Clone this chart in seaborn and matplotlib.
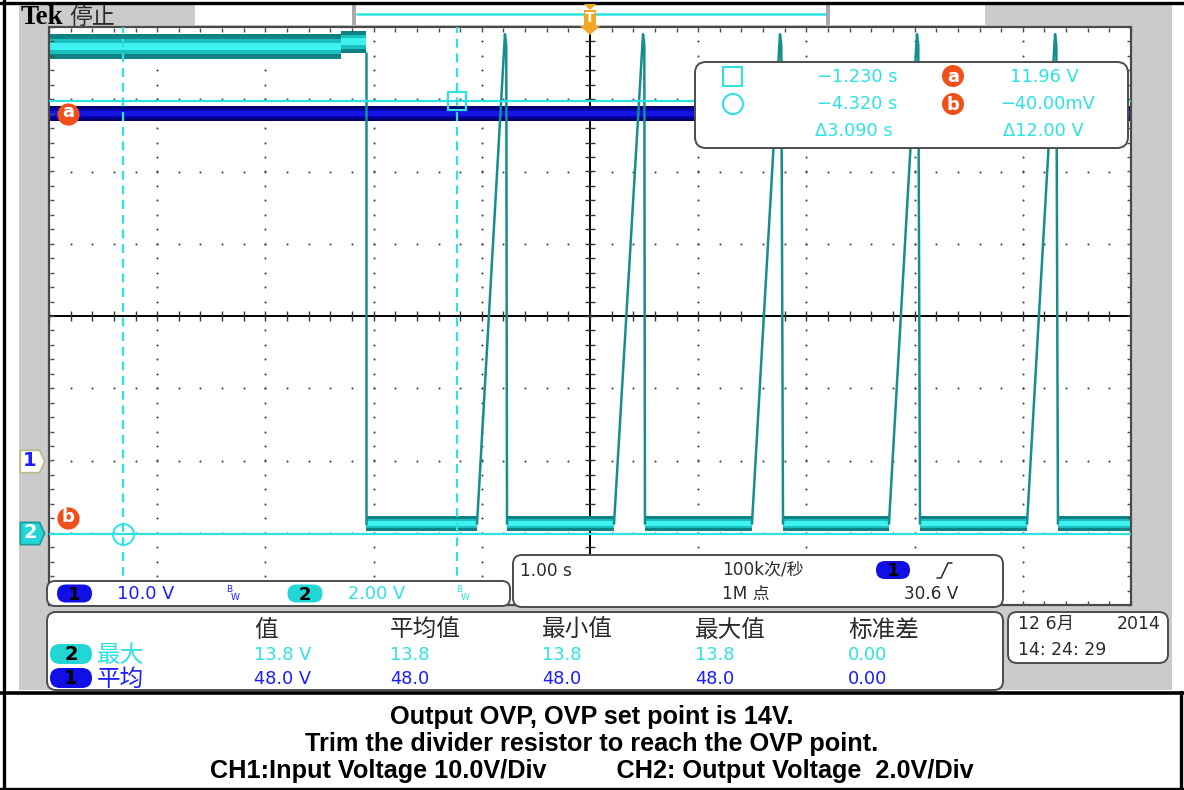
import numpy as np
import pandas as pd
import matplotlib
matplotlib.use("Agg")
import matplotlib.pyplot as plt
import matplotlib.transforms as mtransforms
from matplotlib.patches import FancyBboxPatch, Rectangle, Circle, Polygon
from matplotlib.path import Path
import seaborn as sns

# ---------------- acquisition settings ----------------
sec_per_div = 1.00
ch1_volts_per_div = 10.0
ch2_volts_per_div = 2.00
ch1_position_div = -2.0
ch2_position_div = -3.0
trigger_time = 0.0
trigger_level = 30.6

# ---------------- CH2: output voltage ----------------
# noisy plateau before the OVP trip: segment edges (s) and band limits (V)
ch2_plateau_edges = [-5.0, -2.30, -2.07]
ch2_plateau_min = [13.12, 13.28]
ch2_plateau_max = [13.80, 13.90]
# residual level after the converter shuts down (V)
ch2_off_min = 0.05
ch2_off_max = 0.45
ch2_off_level = 0.25
# hiccup restarts: ramp start, peak and collapse times (s)
hiccup_start = [-1.044, 0.222, 1.497, 2.763, 4.039]
hiccup_peak = [-0.786, 0.490, 1.756, 3.022, 4.298]
hiccup_end = [-0.767, 0.508, 1.784, 3.050, 4.325]
hiccup_peak_volts = 13.8

# ---------------- CH1: input voltage ----------------
ch1_time = [-5.0, 5.0]
ch1_min = [47.0, 47.0]
ch1_max = [49.0, 49.0]

# ---------------- cursors ----------------
cursor_times = [-1.230, -4.320]
cursor_volts = [11.96, -0.040]

# ---------------- measurements ----------------
meas_headers = ["值", "平均值", "最小值", "最大值", "标准差"]
ch2_max_stats = [13.8, 13.8, 13.8, 13.8, 0.00]
ch1_mean_stats = [48.0, 48.0, 48.0, 48.0, 0.00]
sample_rate_text = "100k次/秒"
record_text = "1M 点"
date_text = "12 6月"
year_text = "2014"
clock_text = "14: 24: 29"

caption_lines = [
    "Output OVP, OVP set point is 14V.",
    "Trim the divider resistor to reach the OVP point.",
    "CH1:Input Voltage 10.0V/Div          CH2: Output Voltage  2.0V/Div",
]

# ---------------- colours ----------------
GRAY = "#cbcbcb"
CYAN = "#2ee2e2"
CH2_DARK, CH2_MID, CH2_BRIGHT = "#0f8383", "#1bbfbf", "#3ef2f2"
CH1_DARK, CH1_MID, CH1_BRIGHT = "#00006e", "#0000b8", "#1616e0"
BLUE_TXT = "#1c1cff"
PILL_BLUE = "#1010e6"
ORANGE = "#f2501a"
DARK_TXT = "#2a2a2a"

sns.set_theme(style="white")
plt.rcParams["font.family"] = ["DejaVu Sans", "Noto Sans CJK SC"]
plt.rcParams["axes.unicode_minus"] = True

W, H = 1184, 790
fig = plt.figure(figsize=(W / 100, H / 100), dpi=100)
fig.patch.set_facecolor("white")


def frac_rect(x0, y0, x1, y1):
    return [x0 / W, 1 - y1 / H, (x1 - x0) / W, (y1 - y0) / H]


def canvas(z):
    c = fig.add_axes([0, 0, 1, 1], zorder=z)
    c.set_xlim(0, W)
    c.set_ylim(H, 0)
    c.axis("off")
    c.patch.set_alpha(0)
    return c


bg = canvas(0)
ax = fig.add_axes(frac_rect(49, 27, 1131, 605), zorder=1)
fg = canvas(2)

# ---------------- screen background ----------------
bg.add_patch(Rectangle((19, 5), 1153, 685, fc=GRAY, ec="none"))
bg.add_patch(Rectangle((195, 5), 790, 19.5, fc="white", ec="none"))
for bx in (352, 826):
    bg.add_patch(Rectangle((bx, 5), 4, 19.5, fc="#a9a9a9", ec="none"))
bg.plot([356, 826], [14, 14], color=CYAN, lw=1.8, solid_capstyle="butt")
bg.text(21, 24, "Tek", family="Liberation Serif", fontweight="bold",
        fontsize=19.5, color="black", ha="left", va="baseline")
bg.text(69, 17, "停止", family=["Noto Sans CJK SC"], fontsize=16.5,
        color=DARK_TXT, ha="left", va="center", fontweight="light")

# outer frame and caption separator
bg.plot([0, W], [2.5, 2.5], color="black", lw=2.4)
bg.plot([4, 4], [0, H], color="black", lw=2.4)
bg.plot([0, W], [692.5, 692.5], color="black", lw=2.6)
bg.plot([1181, 1181], [692, H], color="black", lw=2.4)
bg.plot([0, W], [788.5, 788.5], color="black", lw=2.4)

# ---------------- graticule ----------------
ax.set_xlim(-5 * sec_per_div, 5 * sec_per_div)
ax.set_ylim(-4, 4)
ax.set_facecolor("white")
ax.set_xticks([])
ax.set_yticks([])
for s in ax.spines.values():
    s.set_visible(False)

xs_minor = np.arange(-5, 5.001, 0.2)
ys_minor = np.arange(-4, 4.001, 0.2)
for gx in range(-4, 5):
    if gx != 0:
        ax.scatter(np.full(ys_minor.size, gx), ys_minor, s=2.3, c="#4a4a4a",
                   lw=0, zorder=1)
for gy in range(-3, 4):
    if gy != 0:
        ax.scatter(xs_minor, np.full(xs_minor.size, gy), s=2.3, c="#4a4a4a",
                   lw=0, zorder=1)
ax.axhline(0, color="black", lw=1.4, zorder=1.5)
ax.axvline(0, color="black", lw=1.4, zorder=1.5)
ax.plot(xs_minor, np.zeros_like(xs_minor), ls="none", marker="|", ms=7,
        mew=1.0, color="#333333", zorder=1.5)
ax.plot(np.zeros_like(ys_minor), ys_minor, ls="none", marker="_", ms=7,
        mew=1.0, color="#333333", zorder=1.5)
ax.add_patch(Rectangle((0, 0), 1, 1, transform=ax.transAxes, fill=False,
                       ec="#4a4a4a", lw=1.6, clip_on=False, zorder=5))
edge_ticks = [
    (xs_minor, np.full(xs_minor.size, 4.0), "|", 0, -2.5),
    (xs_minor, np.full(xs_minor.size, -4.0), "|", 0, 2.5),
    (np.full(ys_minor.size, -5.0), ys_minor, "_", 2.5, 0),
    (np.full(ys_minor.size, 5.0), ys_minor, "_", -2.5, 0),
]
for tx, ty, mk, dx, dy in edge_ticks:
    tr = mtransforms.offset_copy(ax.transData, fig=fig, x=dx, y=dy, units="dots")
    ax.plot(tx, ty, ls="none", marker=mk, ms=3.5, mew=1.0, color="#4a4a4a",
            transform=tr, clip_on=False, zorder=5)


def ch1_div(v):
    return np.asarray(v, dtype=float) / ch1_volts_per_div + ch1_position_div


def ch2_div(v):
    return np.asarray(v, dtype=float) / ch2_volts_per_div + ch2_position_div


def band(t0, t1, vlo, vhi, conv, colours, z):
    span = vhi - vlo
    for (a, b), col in zip([(0.0, 1.0), (0.18, 0.82), (0.36, 0.66)], colours):
        ax.fill_between([t0, t1], conv(vlo + a * span), conv(vlo + b * span),
                        color=col, lw=0, zorder=z)


# ---------------- CH1 trace ----------------
band(ch1_time[0], ch1_time[-1], ch1_min[0], ch1_max[0], ch1_div,
     (CH1_DARK, CH1_MID, CH1_BRIGHT), 2)

# ---------------- CH2 trace ----------------
ch2_cols = (CH2_DARK, CH2_MID, CH2_BRIGHT)
for i in range(len(ch2_plateau_min)):
    band(ch2_plateau_edges[i], ch2_plateau_edges[i + 1], ch2_plateau_min[i],
         ch2_plateau_max[i], ch2_div, ch2_cols, 3)
off_starts = [ch2_plateau_edges[-1]] + hiccup_end
off_stops = hiccup_start + [5.0 * sec_per_div]
for t0, t1 in zip(off_starts, off_stops):
    band(t0, t1, ch2_off_min, ch2_off_max, ch2_div, ch2_cols, 3)

trace_rows = []
trip_t = ch2_plateau_edges[-1]
trace_rows += [("trip", trip_t, ch2_plateau_min[-1]), ("trip", trip_t, ch2_off_level)]
for k, (ts, tp, te) in enumerate(zip(hiccup_start, hiccup_peak, hiccup_end)):
    trace_rows += [(f"h{k}", ts, ch2_off_level), (f"h{k}", tp, hiccup_peak_volts),
                   (f"h{k}", tp + 0.012, hiccup_peak_volts - 0.3),
                   (f"h{k}", te, ch2_off_level)]
trace = pd.DataFrame(trace_rows, columns=["seg", "t", "volts"])
trace["div"] = ch2_div(trace["volts"])
sns.lineplot(data=trace, x="t", y="div", units="seg", estimator=None, sort=False,
             color="#168e8e", lw=1.8, ax=ax, legend=False, zorder=4)
ax.set_xlabel("")
ax.set_ylabel("")
ax.set_xlim(-5 * sec_per_div, 5 * sec_per_div)
ax.set_ylim(-4, 4)

# ---------------- cursors ----------------
for t in cursor_times:
    ax.axvline(t, color=CYAN, lw=1.6, ls=(0, (4, 2.6)), zorder=6)
for v in cursor_volts:
    ax.axhline(ch2_div(v), color=CYAN, lw=1.6, zorder=6)
ax.plot(cursor_times[0], ch2_div(cursor_volts[0]), marker="s", ms=13.5,
        mfc="none", mec=CYAN, mew=1.6, zorder=7)
ax.plot(cursor_times[1], ch2_div(cursor_volts[1]), marker="o", ms=15,
        mfc="none", mec=CYAN, mew=1.4, zorder=7)

for letter, v, dy in (("a", cursor_volts[0], -13), ("b", cursor_volts[1], 16)):
    tr = mtransforms.offset_copy(ax.transData, fig=fig, x=19, y=dy, units="dots")
    ax.plot([-5 * sec_per_div], [ch2_div(v)], marker="o", ms=16, color=ORANGE,
            mec="none", transform=tr, clip_on=False, zorder=8)
    tr2 = mtransforms.offset_copy(ax.transData, fig=fig, x=19, y=dy + 1.5,
                                  units="dots")
    ax.text(-5 * sec_per_div, ch2_div(v), letter, transform=tr2, ha="center",
            va="center", color="white", fontweight="bold", fontsize=13, zorder=9)

# channel ground markers at the left edge
flag = Path([(-12, -11), (7, -11), (12, 0), (7, 11), (-12, 11), (-12, -11)],
            [Path.MOVETO] + [Path.LINETO] * 4 + [Path.CLOSEPOLY])
marker_specs = [
    ("1", ch1_position_div, "white", "#b9b98a", BLUE_TXT),
    ("2", ch2_position_div, "#22d6d6", "#1a9a9a", "white"),
]
for lab, pos, fc, ec, tc in marker_specs:
    tr = mtransforms.offset_copy(ax.transData, fig=fig, x=-17, y=0, units="dots")
    ax.plot([-5 * sec_per_div], [pos], marker=flag, ms=17.5, mfc=fc, mec=ec,
            mew=1.2, transform=tr, clip_on=False, zorder=8)
    tr2 = mtransforms.offset_copy(ax.transData, fig=fig, x=-19, y=0, units="dots")
    ax.text(-5 * sec_per_div, pos, lab, transform=tr2, ha="center", va="center",
            color=tc, fontsize=14, fontweight="bold", zorder=9)

# trigger position marker on the record bar
fig.canvas.draw()
trig_x = fg.transData.inverted().transform(
    ax.transData.transform((trigger_time, 0)))[0]
fg.add_patch(Polygon([(trig_x - 6, 4), (trig_x + 6, 4), (trig_x, 10)],
                     closed=True, fc="#f5a623", ec="none"))
fg.add_patch(Polygon([(trig_x - 6, 10), (trig_x + 6, 10), (trig_x + 6, 26),
                      (trig_x + 10, 26), (trig_x, 35), (trig_x - 10, 26),
                      (trig_x - 6, 26)], closed=True, fc="#f5a623", ec="none"))
fg.text(trig_x, 18, "T", ha="center", va="center", color="white",
        fontsize=10, fontweight="bold")


# ---------------- readout panels ----------------
def panel(x0, y0, x1, y1, r=9):
    fg.add_patch(FancyBboxPatch((x0, y0), x1 - x0, y1 - y0,
                                boxstyle=f"round,pad=0,rounding_size={r}",
                                fc="white", ec="#4d4d4d", lw=1.4))


def pill(cx, cy, w, h, fc, label, tc="black", size=13):
    fg.add_patch(FancyBboxPatch((cx - w / 2, cy - h / 2), w, h,
                                boxstyle=f"round,pad=0,rounding_size={h / 2}",
                                fc=fc, ec="none"))
    fg.text(cx, cy + 1, label, ha="center", va="center", color=tc,
            fontsize=size, fontweight="bold")


def badge(cx, cy, letter):
    fg.add_patch(Circle((cx, cy), 11, fc=ORANGE, ec="none"))
    fg.text(cx, cy + 0.5, letter, ha="center", va="center", color="white",
            fontsize=13, fontweight="bold")


def fmt_time(t):
    return f"{t:.3f} s".replace("-", "−")


def fmt_volt(v):
    if abs(v) < 1:
        return f"{v * 1000:.2f}mV".replace("-", "−")
    return f"{v:.2f} V".replace("-", "−")


# cursor readout
panel(695, 62, 1128, 148, r=11)
fg.add_patch(Rectangle((723, 67), 19, 19, fill=False, ec=CYAN, lw=1.5))
fg.add_patch(Circle((733, 104), 10, fill=False, ec=CYAN, lw=1.5))
fg.text(817, 77, fmt_time(cursor_times[0]), color=CYAN, fontsize=12.8, va="center")
fg.text(817, 104, fmt_time(cursor_times[1]), color=CYAN, fontsize=12.8, va="center")
fg.text(815, 131, "Δ" + fmt_time(abs(cursor_times[0] - cursor_times[1])),
        color=CYAN, fontsize=12.8, va="center")
badge(953, 76, "a")
badge(953, 104, "b")
fg.text(1010, 77, fmt_volt(cursor_volts[0]), color=CYAN, fontsize=12.8, va="center")
fg.text(1000, 104, fmt_volt(cursor_volts[1]), color=CYAN, fontsize=12.8, va="center")
fg.text(1003, 131, "Δ" + fmt_volt(abs(cursor_volts[0] - cursor_volts[1])),
        color=CYAN, fontsize=12.8, va="center")

# timebase / trigger readout
panel(513, 555, 1003, 607)
fg.text(520, 571, f"{sec_per_div:.2f} s", color=DARK_TXT, fontsize=12.2, va="center")
fg.text(722, 570, sample_rate_text, color=DARK_TXT, fontsize=12.2, va="center")
fg.text(722, 594, record_text, color=DARK_TXT, fontsize=12.2, va="center")
pill(893, 570, 34, 18, PILL_BLUE, "1")
fg.plot([937, 941, 948, 952], [578, 578, 563, 563], color=DARK_TXT, lw=1.1)
fg.text(958, 594, f"{trigger_level:.1f} V", color=DARK_TXT, fontsize=12.2,
        va="center", ha="right")

# channel scale readout
panel(47, 581, 510, 606, r=8)
pill(74.5, 593.5, 35, 18, PILL_BLUE, "1")
fg.text(117, 594, f"{ch1_volts_per_div:.1f} V", color=BLUE_TXT, fontsize=12.8,
        va="center")
pill(305, 593.5, 35, 18, "#22d6d6", "2")
fg.text(348, 594, f"{ch2_volts_per_div:.2f} V", color=CYAN, fontsize=12.8,
        va="center")
for bx, col in ((226, BLUE_TXT), (456, CYAN)):
    fg.text(bx, 590, "B", color=col, fontsize=6.5, va="center")
    fg.text(bx + 5, 597, "W", color=col, fontsize=6.5, va="center")

# measurement table
panel(47, 612, 1003, 690, r=9)
col_x = [254, 390, 542, 695, 848]
for x, h in zip(col_x, meas_headers):
    fg.text(x, 630, h, color=DARK_TXT, fontsize=17, va="center")
pill(71, 654, 42, 20, "#22d6d6", "2", size=14)
pill(71, 678, 42, 20, PILL_BLUE, "1", size=14)
fg.text(97, 655, "最大", color=CYAN, fontsize=17, va="center")
fg.text(97, 679, "平均", color=BLUE_TXT, fontsize=17, va="center")
for row_y, stats, col in ((655, ch2_max_stats, CYAN), (679, ch1_mean_stats, BLUE_TXT)):
    labels = [f"{stats[0]:.1f} V"] + [f"{s:.1f}" for s in stats[1:4]] + [f"{stats[4]:.2f}"]
    for x, lab in zip(col_x, labels):
        fg.text(x, row_y, lab, color=col, fontsize=12.8, va="center")

# date / time
panel(1008, 612, 1168, 663, r=9)
fg.text(1018, 624, date_text, color=DARK_TXT, fontsize=12.5, va="center")
fg.text(1161, 624, year_text, color=DARK_TXT, fontsize=12.5, va="center", ha="right")
fg.text(1018, 650, clock_text, color=DARK_TXT, fontsize=12.5, va="center")

# ---------------- caption ----------------
for y, line in zip((717, 744, 771), caption_lines):
    bg.text(592, y, line, family="Liberation Sans", fontweight="bold",
            fontsize=18.2, color="black", ha="center", va="center")

fig.savefig("out.png", dpi=100, facecolor="white")
